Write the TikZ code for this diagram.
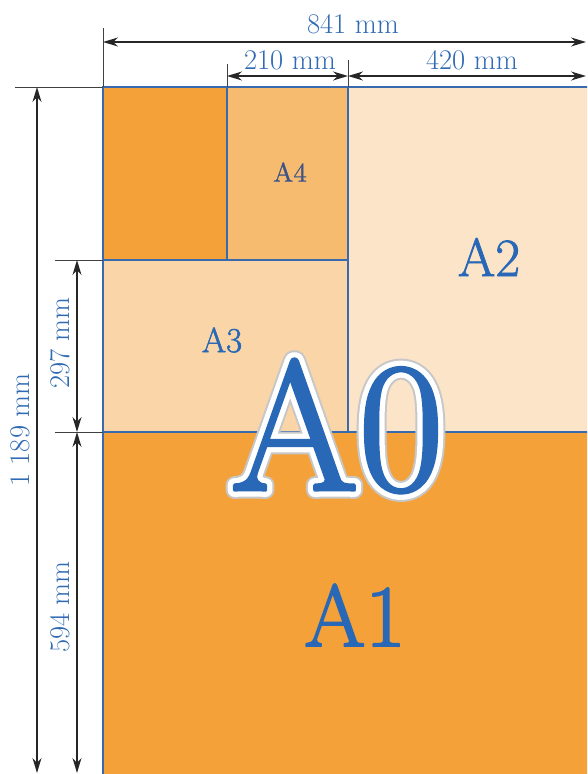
\documentclass[tikz,border=0pt]{standalone}
\usepackage{fontspec}
\usetikzlibrary{arrows.meta}
\newfontfamily\semibold[FakeBold=0.6]{lmroman10-regular.otf}
\definecolor{cdark}{RGB}{244,161,58}
\definecolor{cfour}{RGB}{247,187,112}
\definecolor{cthree}{RGB}{250,213,167}
\definecolor{ctwo}{RGB}{252,228,200}
\definecolor{lineblue}{RGB}{58,106,174}
\definecolor{txtblue}{RGB}{48,106,178}
\definecolor{labblue}{RGB}{40,104,182}
\definecolor{afour}{RGB}{62,84,136}
\newcommand\strokeon[2]{\special{pdf:literal direct #1 RG 1 j 1 J #2 w 2 Tr}}
\newcommand\strokeoff{\special{pdf:literal direct 0 Tr}}
\newcommand\bluestroke{0.157 0.408 0.714}
\tikzset{
  border/.style={draw=lineblue,line width=2pt},
  extline/.style={draw=black!75,line width=0.8pt},
  dimline/.style={draw=black!85,line width=1.5pt,{Stealth[length=15pt,width=9pt]}-{Stealth[length=15pt,width=9pt]}},
  dimlabel/.style={text=txtblue,font=\fontsize{28.5}{30}\selectfont,inner sep=0pt},
  arealabel/.style={text=labblue,inner sep=0pt},
  bigA/.style={inner sep=0pt,font=\fontsize{185}{200}\selectfont},
}
\begin{document}
\begin{tikzpicture}[x=1pt,y=-1pt]
\useasboundingbox (0,0) rectangle (587,774);
\clip (0,0) rectangle (587,774);
% corner coordinates
\coordinate (TL) at (103,87);
\coordinate (T4) at (227,87);
\coordinate (T2) at (348,87);
\coordinate (M3) at (103,260);
\coordinate (M4) at (227,260);
\coordinate (M34) at (348,260);
\coordinate (ML) at (103,432);
\coordinate (MM) at (348,432);
% areas
\fill[cdark] (103,432) rectangle (600,790);
\fill[ctwo] (348,87) rectangle (600,432);
\fill[cthree] (103,260) rectangle (348,432);
\fill[cfour] (227,87) rectangle (348,260);
\fill[cdark] (103,87) rectangle (227,260);
% borders
\draw[border] (103,790) -- (TL) -- (600,87);
\draw[border] (T4) -- (M4);
\draw[border] (T2) -- (MM);
\draw[border] (M3) -- (M34);
\draw[border] (ML) -- (600,432);
% extension lines
\coordinate (eTL) at (103,28);
\coordinate (eT4) at (227,64);
\coordinate (eT2) at (348,60);
\coordinate (eL0) at (15,87);
\coordinate (eL3) at (55,260);
\coordinate (eL1) at (55,432);
\draw[extline] (eTL) -- (TL);
\draw[extline] (eT4) -- (T4);
\draw[extline] (eT2) -- (T2);
\draw[extline] (eL0) -- (TL);
\draw[extline] (eL3) -- (M3);
\draw[extline] (eL1) -- (ML);
% dimension arrows
\coordinate (a841s) at (103,42);
\coordinate (a841e) at (586,42);
\coordinate (a210s) at (227,76);
\coordinate (a210e) at (348,76);
\coordinate (a420e) at (586,76);
\coordinate (v1s) at (37,87);
\coordinate (v1e) at (37,773);
\coordinate (v2s) at (77,260);
\coordinate (v2m) at (77,432);
\coordinate (v2e) at (77,773);
\draw[dimline] (a841s) -- (a841e);
\draw[dimline] (a210s) -- (a210e);
\draw[dimline] (a210e) -- (a420e);
\draw[dimline] (v1s) -- (v1e);
\draw[dimline] (v2s) -- (v2m);
\draw[dimline] (v2m) -- (v2e);
% dimension labels
\node[dimlabel] (l841) at (353,24) {841 mm};
\node[dimlabel] (l210) at (290,60) {210 mm};
\node[dimlabel] (l420) at (472,60) {420 mm};
\node[dimlabel,rotate=90] (l1189) at (20,430) {1 189 mm};
\node[dimlabel,rotate=90] (l297) at (60,343) {297 mm};
\node[dimlabel,rotate=90] (l594) at (60,607) {594 mm};
% area labels
\node[text=afour,inner sep=0pt,font=\semibold\fontsize{27}{30}\selectfont] (lA4) at (290,172) {A4};
\node[arealabel,font=\fontsize{35}{40}\selectfont] (lA3) at (222,340) {\strokeon{\bluestroke}{0.5}A3\strokeoff};
\node[arealabel,font=\fontsize{54}{60}\selectfont] (lA2) at (489,257) {\strokeon{\bluestroke}{0.8}A2\strokeoff};
\node[arealabel,font=\fontsize{88}{96}\selectfont] (lA1) at (355,615) {\strokeon{\bluestroke}{1.8}A1\strokeoff};
% A0 with white outline and faint shadow
\node[bigA,text=black!25] (sA0) at (337,426) {\strokeon{0.78 0.78 0.78}{18}A0\strokeoff};
\node[bigA,text=white] (wA0) at (337,426) {\strokeon{1 1 1}{14}A0\strokeoff};
\node[bigA,text=labblue] (lA0) at (337,426) {\strokeon{\bluestroke}{3.5}A0\strokeoff};
\end{tikzpicture}
\end{document}
